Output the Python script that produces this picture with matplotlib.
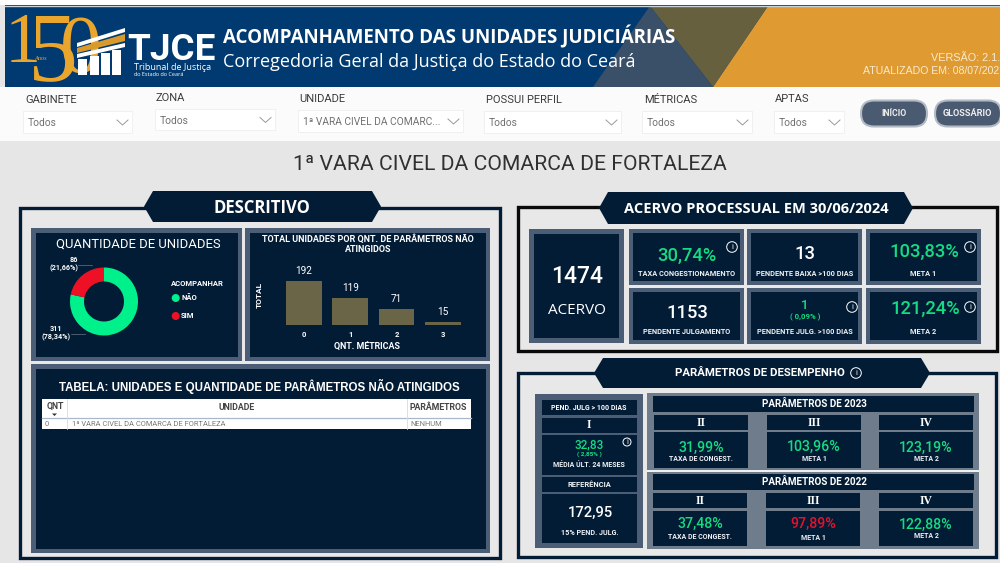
import matplotlib
matplotlib.use('Agg')
import matplotlib.pyplot as plt
from matplotlib.patches import Polygon, Rectangle, Circle, FancyBboxPatch

# ---------- data ----------
donut_labels = ['NÃO', 'SIM']
donut_values = [311, 86]
donut_texts = ['311\n(78,34%)', '86\n(21,66%)']
bar_categories = ['0', '1', '2', '3']
bar_values = [192, 119, 71, 15]
filter_names = ['GABINETE', 'ZONA', 'UNIDADE', 'POSSUI PERFIL', 'MÉTRICAS', 'APTAS']
filter_values = ['Todos', 'Todos', '1ª VARA CIVEL DA COMARC...', 'Todos', 'Todos', 'Todos']
table_columns = ['QNT', 'UNIDADE', 'PARÂMETROS']
table_row = ['0', '1ª VARA CIVEL DA COMARCA DE FORTALEZA', 'NENHUM']
card_values = ['30,74%', '13', '103,83%', '1153', '1', '121,24%']
card_labels = ['TAXA CONGESTIONAMENTO', 'PENDENTE BAIXA >100 DIAS', 'META 1',
               'PENDENTE JULGAMENTO', 'PENDENTE JULG. >100 DIAS', 'META 2']
params_2023 = ['31,99%', '103,96%', '123,19%']
params_2022 = ['37,48%', '97,89%', '122,88%']
param_labels = ['TAXA DE CONGEST.', 'META 1', 'META 2']
param_numerals = ['II', 'III', 'IV']

# ---------- palette ----------
NAVY = '#031c35'
BORDER = '#4b5e76'
GREEN = '#14dc82'
RED = '#e8112d'
WHITE = '#ffffff'
GOLD = '#e9a52c'
FONT = 'Roboto'

fig = plt.figure(figsize=(10, 5.63), dpi=100, facecolor='#e6e6e6')
ax = fig.add_axes([0, 0, 1, 1])
ax.set_xlim(0, 1000)
ax.set_ylim(563, 0)
ax.axis('off')


def rect(x0, y0, x1, y1, fc, ec='none', lw=0, z=1):
    ax.add_patch(Rectangle((x0, y0), x1 - x0, y1 - y0, fc=fc, ec=ec, lw=lw, zorder=z))


def poly(pts, fc, z=1):
    ax.add_patch(Polygon(pts, closed=True, fc=fc, ec='none', zorder=z))


def txt(x, y, s, size=7, color=WHITE, weight='normal', ha='center', va='center',
        family=FONT, z=10, **kw):
    return ax.text(x, y, s, fontsize=size, color=color, fontweight=weight, ha=ha, va=va,
                   family=family, zorder=z, **kw)


def val(x, yc, s, size, color=WHITE, weight='medium'):
    # number centred on its cap height, whatever its comma does to the box
    txt(x, yc + size * 0.49, s, size=size, color=color, weight=weight, va='baseline')


def info(x, y, r=5.3, color=WHITE):
    ax.add_patch(Circle((x, y), r, fc='none', ec=color, lw=0.7, zorder=10))
    txt(x, y, 'i', size=5.5, color=color)


def hexagon(x0, x1, y0, y1, c=9):
    ym = (y0 + y1) / 2
    poly([(x0, ym), (x0 + c, y0), (x1 - c, y0), (x1, ym), (x1 - c, y1), (x0 + c, y1)], NAVY, z=4)


def frame(x0, y0, x1, y1, ec):
    rect(x0, y0, x1, y1, '#e8e8e8', ec=ec, lw=2.4, z=2)


def card(x0, y0, x1, y1, inset=4.5, border=BORDER):
    rect(x0, y0, x1, y1, border, z=3)
    rect(x0 + inset, y0 + inset, x1 - inset, y1 - inset, NAVY, z=4)


# ---------- banner ----------
rect(0, 0, 1000, 5, '#ffffff', z=0)
rect(0, 87, 1000, 141, '#fbfbfb', z=0)
rect(5, 5, 1000, 87, '#003a70', z=1)
poly([(768, 6), (1000, 6), (1000, 87), (713, 87)], '#df9b31', z=2)
poly([(650, 6), (768, 6), (713, 87)], '#66603f', z=2)
poly([(650, 6), (713, 87), (593, 87)], '#3a5068', z=2)
ax.plot([5, 1000], [5.5, 5.5], color='#c9d3da', lw=1, zorder=3)

# logo
txt(5, 62, '1', size=52, color=GOLD, ha='left', va='baseline', family='Liberation Serif', z=3)
txt(28, 80, '5', size=72, color=GOLD, ha='left', va='baseline', family='Liberation Serif', z=3)
txt(60, 72, '0', size=60, color=GOLD, ha='left', va='baseline', family='Liberation Serif', z=3)
txt(41, 58, 'Anos', size=4.5, color=GOLD, style='italic', family='Liberation Serif', z=3)
poly([(77, 43), (125, 28), (125, 32), (77, 47)], WHITE, z=5)
poly([(77, 48), (125, 34), (125, 41), (77, 53)], '#d99a2b', z=5)
poly([(77, 54), (125, 43), (125, 47), (77, 58)], WHITE, z=5)
for x0, top in [(78, 59), (90, 56), (101, 53), (112, 50)]:
    rect(x0, top, x0 + 8.5, 75, WHITE, z=5)
txt(127, 60.5, 'TJCE', size=26.6, weight='bold', ha='left', va='baseline', family='Roboto')
txt(134, 67, 'Tribunal de Justiça', size=6.5, ha='left', family='Open Sans')
txt(134, 74, 'do Estado do Ceará', size=4, ha='left', family='Open Sans')

txt(223, 37, 'ACOMPANHAMENTO DAS UNIDADES JUDICIÁRIAS', size=13.5, weight='bold', ha='left', family='Open Sans')
txt(223, 62, 'Corregedoria Geral da Justiça do Estado do Ceará', size=13.0, ha='left', family='Open Sans')
txt(1000, 58, 'VERSÃO: 2.1.', size=7.8, color='#f8ead0', ha='right', family='Liberation Sans')
txt(999.5, 71, 'ATUALIZADO EM: 08/07/202', size=7.6, color='#f8ead0', ha='right', family='Liberation Sans')

# ---------- filters ----------
label_x = [25, 156, 299, 486, 644, 775]
label_y = [100, 98, 99, 100, 100, 99]
box_x = [(23, 132), (155, 275), (298, 463), (484, 621), (642, 752), (774, 844)]
box_y = [(111, 133), (109, 130), (110, 132), (111, 133), (111, 133), (111, 133)]
for lx, ly, (x0, x1), (b0, b1), name, v in zip(label_x, label_y, box_x, box_y, filter_names, filter_values):
    txt(lx, ly, name, size=8, color='#3b3b3b', ha='left')
    rect(x0, b0, x1, b1, '#ffffff', ec='#eeeeee', lw=0.6, z=1)
    txt(x0 + 5, (b0 + b1) / 2 + 1, v, size=7.4, color='#707070', ha='left')
    ym = (b0 + b1) / 2
    ax.plot([x1 - 15, x1 - 9.5, x1 - 4], [ym - 2, ym + 3, ym - 2], color='#9a9a9a', lw=0.7, zorder=5)

for x0, x1, s, fs in [(861, 927, 'INÍCIO', 6.2), (935, 1001, 'GLOSSÁRIO', 6.6)]:
    ax.add_patch(FancyBboxPatch((x0 + 13, 113.5), x1 - x0 - 26, 0.01,
                                boxstyle='round,pad=13,rounding_size=13',
                                fc='#4a5a70', ec='#b2bac4', lw=1.5, zorder=5))
    txt((x0 + x1) / 2 - (0 if x0 < 900 else 0.5), 113.5, s, size=fs, weight='bold', color='#eeeeee')

# ---------- title ----------
txt(510, 164, '1ª VARA CIVEL DA COMARCA DE FORTALEZA', size=15.2, color='#303030')

# ---------- frames and headers ----------
frame(20, 208, 500, 558, NAVY)
hexagon(144, 381, 191, 222)
txt(262, 208, 'DESCRITIVO', size=12, weight='bold', family='Open Sans')
frame(518, 207, 997, 351, '#0a0a0a')
hexagon(599, 913, 192, 224)
txt(756, 209, 'ACERVO PROCESSUAL EM 30/06/2024', size=10.5, weight='bold', family='Open Sans')
frame(518, 373, 996, 557, NAVY)
hexagon(594, 930, 358, 388)
txt(760, 373.5, 'PARÂMETROS DE DESEMPENHO', size=8.2, weight='bold')
info(856, 373)

# ---------- Descritivo panels ----------
card(31, 228, 242, 361)
card(245, 228, 490, 361)
card(31, 364, 490, 553)
txt(138, 244.5, 'QUANTIDADE DE UNIDADES', size=9.4)
txt(368, 239, 'TOTAL UNIDADES POR QNT. DE PARÂMETROS NÃO', size=6.5, weight='bold')
txt(368, 250, 'ATINGIDOS', size=6.5, weight='bold')

# donut
dax = fig.add_axes([(104 - 36) / 1000, 1 - (301.5 + 36) / 563, 72 / 1000, 72 / 563], zorder=5)
dax.pie(donut_values, colors=['#00f08c', '#ee1125'], startangle=90, counterclock=False,
        radius=34 / 36, wedgeprops={'width': 14 / 36, 'linewidth': 0})
dax.set_xlim(-1, 1)
dax.set_ylim(-1, 1)
dax.set_aspect('equal')
dax.patch.set_alpha(0)
txt(71, 333.5, donut_texts[0], size=5.2, weight='bold', linespacing=1.1, ha='right', multialignment='center')
txt(78, 264.5, donut_texts[1], size=5.2, weight='bold', linespacing=1.1, ha='right', multialignment='right')
ax.plot([71, 85], [334, 334], color='#7f8a96', lw=0.4, zorder=6)
ax.plot([78, 92], [265, 265], color='#7f8a96', lw=0.4, zorder=6)
txt(171, 284, 'ACOMPANHAR', size=5.5, weight='bold', ha='left')
ax.add_patch(Circle((175.7, 298), 4, fc='#00f08c', ec='none', zorder=6))
ax.add_patch(Circle((175.7, 316), 4, fc='#ee1125', ec='none', zorder=6))
txt(181, 298, donut_labels[0], size=5.5, weight='bold', ha='left')
txt(181, 316, donut_labels[1], size=5.5, weight='bold', ha='left')

# bars
bax = fig.add_axes([280.8 / 1000, 1 - 325 / 563, 185.2 / 1000, 44.3 / 563], zorder=5)
bars = bax.bar(range(len(bar_values)), bar_values, width=0.775, color='#6b6547')
bax.set_xlim(-0.5, 3.5)
bax.set_ylim(0, 192)
bax.patch.set_alpha(0)
for s in bax.spines.values():
    s.set_visible(False)
bax.set_yticks([])
bax.set_xticks(range(len(bar_categories)), bar_categories, fontsize=5.5, color=WHITE,
               fontweight='bold', family=FONT)
bax.tick_params(axis='x', length=0, pad=4)
for b, v in zip(bars, bar_values):
    bax.annotate(str(v), (b.get_x() + b.get_width() / 2, v), xytext=(0, 3.5),
                 textcoords='offset points', ha='center', va='bottom', color=WHITE,
                 fontsize=7.2, family=FONT, annotation_clip=False)
txt(259, 295, 'TOTAL', size=6, weight='bold', rotation=90)
txt(367, 347, 'QNT. MÉTRICAS', size=6.4, weight='bold')

# table
txt(259, 386, 'TABELA: UNIDADES E QUANTIDADE DE PARÂMETROS NÃO ATINGIDOS', size=8.3, weight='bold', family='Liberation Sans')
rect(42, 399, 471, 429, '#ffffff', z=5)
ax.plot([42, 471], [418, 418], color='#a9b9cc', lw=0.9, zorder=6)
for xc in (67, 407):
    ax.plot([xc, xc], [399, 429], color='#d5dbe3', lw=0.6, zorder=6)
txt(55, 406.5, table_columns[0], size=6.3, color='#444444', weight='bold')
poly([(52, 413.5), (57, 413.5), (54.5, 416)], '#333333', z=6)
txt(237, 407, table_columns[1], size=6.3, color='#444444', weight='bold')
txt(438, 407, table_columns[2], size=6.3, color='#444444', weight='bold')
txt(47, 424.5, table_row[0], size=5.4, color='#777777')
txt(72, 424.5, table_row[1], size=5.4, color='#777777', ha='left')
txt(410, 424.5, table_row[2], size=5.4, color='#777777', ha='left')

# ---------- Acervo cards ----------
card(529, 229, 624, 343, inset=5)
val(577.5, 275, '1474', 16.5)
txt(576.5, 310, 'ACERVO', size=11, family='Open Sans')
card_x = [(629, 744), (747, 862), (866, 981)]
card_y = [(229, 285), (288, 344)]
card_colors = [GREEN, WHITE, GREEN, WHITE, GREEN, GREEN]
value_x = [686.5, 805, 924, 687, 805, 925]
value_y = [254.5, 253, 250.5, 312, 304.5, 307]
k = 0
for y0, y1 in card_y:
    for x0, x1 in card_x:
        card(x0, y0, x1, y1, inset=4)
        xc = (x0 + x1) / 2
        lab_y = y0 + 44.5 if y0 < 280 else y0 + 43.5
        txt(xc, lab_y, card_labels[k], size=5.3, weight='bold', color='#eef1f4')
        val(value_x[k], value_y[k], card_values[k], 9.5 if k == 4 else 13.2, card_colors[k])
        k += 1
txt(805, 317, '( 0,09% )', size=5.6, color=GREEN, weight='bold')
info(732, 247)
info(970, 247)
info(852, 307)
info(970, 307)

# ---------- Parametros ----------
rect(535, 394, 643, 548, BORDER, z=3)
for y0, y1 in [(400, 415), (418, 433), (435, 475), (477, 492), (494, 543)]:
    rect(542, y0, 637, y1, NAVY, z=4)
txt(589, 408, 'PEND. JULG > 100 DIAS', size=5, weight='bold')
txt(589, 425.5, 'I', size=8.5, weight='bold', family='Liberation Serif')
val(589, 444, '32,83', 8.5, GREEN)
txt(589, 454.5, '( 2,85% )', size=4.6, color=GREEN, weight='bold')
txt(589, 465, 'MÉDIA ÚLT. 24 MESES', size=5, weight='bold', color='#eef1f4')
info(627, 442, r=4)
txt(589, 485, 'REFERÊNCIA', size=5.4, weight='bold', color='#eef1f4')
val(590, 512, '172,95', 10.6)
txt(590, 533, '15% PEND. JULG.', size=5.2, weight='bold', color='#eef1f4')

rect(647, 393, 979, 549, '#6f7c8c', z=3)
rect(647, 470, 979, 472, '#f0f0f0', z=4)


def param_block(title, y_head, y_num, y_body, xs, values, colors, val_y, lab_y):
    rect(653, y_head[0], 974, y_head[1], NAVY, z=4)
    txt(814, (y_head[0] + y_head[1]) / 2, title, size=7.1, weight='bold')
    for i, (x0, x1) in enumerate(xs):
        rect(x0, y_num[0], x1, y_num[1], NAVY, z=4)
        rect(x0, y_body[0], x1, y_body[1], NAVY, z=4)
        xc = (x0 + x1) / 2
        txt(xc, (y_num[0] + y_num[1]) / 2, param_numerals[i], size=8.5, weight='bold', family='Liberation Serif')
        val(xc, val_y[i], values[i], 10.2, colors[i])
        txt(xc, lab_y[i], param_labels[i], size=5, weight='bold', color='#eef1f4')


param_block('PARÂMETROS DE 2023', (396, 412), (415, 430), (432, 468),
            [(654, 748), (767, 861), (879, 973)], params_2023, [GREEN, GREEN, GREEN],
            [447, 446, 447], [459, 459, 459])
param_block('PARÂMETROS DE 2022', (474, 490), (493, 508), (511, 546),
            [(653, 747), (766, 860), (879, 973)], params_2022, [GREEN, RED, GREEN],
            [523, 523, 524], [537, 538, 536])

fig.savefig('out.png', dpi=100, facecolor=fig.get_facecolor())
